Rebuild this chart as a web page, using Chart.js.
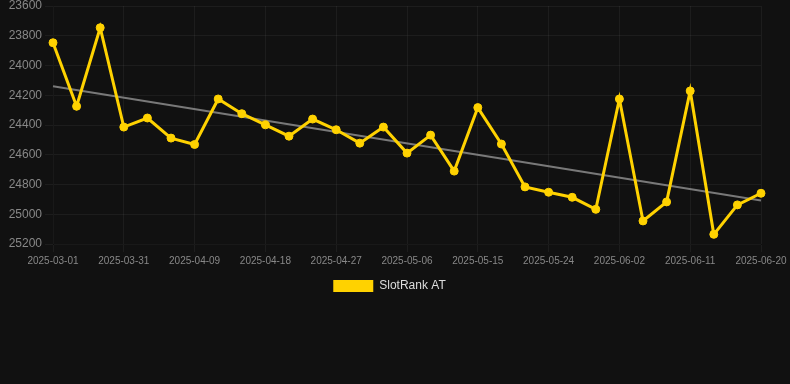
<!DOCTYPE html>
<html>
<head>
<meta charset="utf-8">
<script src="https://cdn.jsdelivr.net/npm/chart.js@4"></script>
<style>
  html, body { margin: 0; padding: 0; background: #111111; }
  #wrap { width: 790px; height: 302px; position: relative; }
</style>
</head>
<body>
<div id="wrap"><canvas id="c"></canvas></div>
<script>
const labels = [
  "2025-03-01","2025-03-25","2025-03-28","2025-03-31","2025-04-03","2025-04-06",
  "2025-04-09","2025-04-12","2025-04-15","2025-04-18","2025-04-21","2025-04-24",
  "2025-04-27","2025-04-30","2025-05-03","2025-05-06","2025-05-09","2025-05-12",
  "2025-05-15","2025-05-18","2025-05-21","2025-05-24","2025-05-27","2025-05-30",
  "2025-06-02","2025-06-05","2025-06-08","2025-06-11","2025-06-14","2025-06-17",
  "2025-06-20"
];
const rankValues = [
  23847, 24274, 23746, 24414, 24353, 24488,
  24531, 24225, 24324, 24399, 24475, 24360,
  24432, 24522, 24414, 24589, 24468, 24710,
  24283, 24528, 24816, 24852, 24886, 24967,
  24225, 25045, 24917, 24171, 25135, 24937,
  24859
];
const trendStart = 24139;
const trendEnd = 24908;
const trendValues = labels.map((_, i) => i === 0 ? trendStart : (i === labels.length - 1 ? trendEnd : null));
const seriesName = "SlotRank AT";
const FONT = 'Liberation Sans, Arial, sans-serif';

new Chart(document.getElementById('c'), {
  type: 'line',
  data: {
    labels: labels,
    datasets: [
      {
        label: seriesName,
        data: rankValues,
        borderColor: '#FFD200',
        backgroundColor: '#FFD200',
        borderWidth: 3,
        pointRadius: 4,
        pointBorderWidth: 1,
        pointHoverRadius: 5,
        tension: 0,
        fill: false
      },
      {
        label: 'trend',
        data: trendValues,
        borderColor: 'rgba(140,140,140,0.85)',
        borderWidth: 2,
        pointRadius: 0,
        spanGaps: true,
        fill: false
      }
    ]
  },
  options: {
    responsive: true,
    maintainAspectRatio: false,
    animation: false,
    layout: { padding: { left: 0, right: 11, top: 0, bottom: 0 } },
    plugins: {
      legend: {
        position: 'bottom',
        labels: {
          color: '#dddddd',
          font: { family: FONT, size: 12 },
          boxWidth: 40,
          boxHeight: 12,
          generateLabels: (chart) => Chart.defaults.plugins.legend.labels.generateLabels(chart)
            .filter(item => item.text !== 'trend')
            .map(item => Object.assign(item, { lineWidth: 0 }))
        }
      },
      tooltip: { enabled: false }
    },
    scales: {
      x: {
        grid: { color: 'rgba(255,255,255,0.05)' },
        ticks: {
          color: '#888888',
          font: { family: FONT, size: 10 },
          maxRotation: 0,
          autoSkip: true,
          maxTicksLimit: 11
        },
        afterFit: (scale) => { scale.paddingRight = 29; }
      },
      y: {
        reverse: true,
        min: 23600,
        max: 25200,
        grid: { color: 'rgba(255,255,255,0.05)' },
        ticks: {
          color: '#888888',
          stepSize: 200,
          font: { family: FONT, size: 12 },
          callback: (v) => String(v)
        },
        afterFit: (scale) => { scale.width = 53; scale.paddingTop = 6; }
      }
    }
  }
});
</script>
</body>
</html>
